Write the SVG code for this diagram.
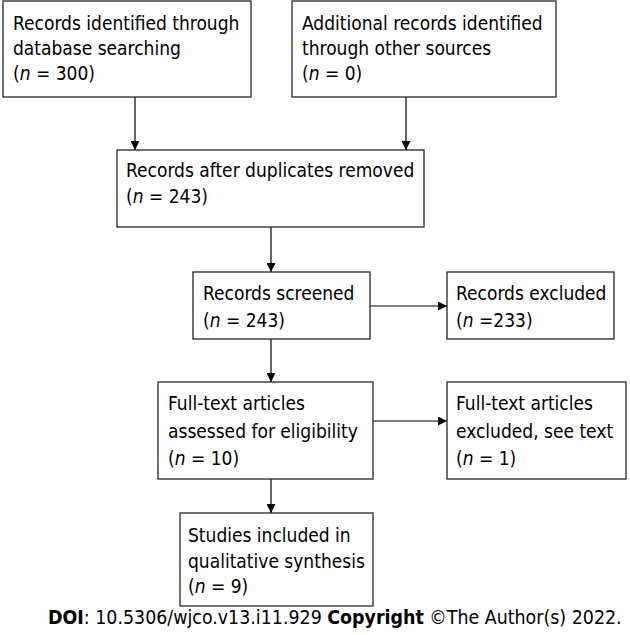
<svg xmlns="http://www.w3.org/2000/svg" width="630" height="635" viewBox="0 0 630 635">
<style>
.box{fill:#fff;stroke:#262626;stroke-width:1.3}
.t{font-family:"DejaVu Sans Condensed","DejaVu Sans",sans-serif;font-size:19px;fill:#000}
.d{font-size:19.4px}
.i{font-style:italic}
.b{font-weight:bold}
.c{stroke:#000;stroke-width:1.2;fill:none;marker-end:url(#ah)}
</style>
<defs>
<marker id="ah" viewBox="0 0 10 10" refX="10" refY="5" markerWidth="9" markerHeight="9" markerUnits="userSpaceOnUse" orient="auto">
<path d="M0,0 L10,5 L0,10 z" fill="#000"/>
</marker>
</defs>
<rect width="630" height="635" fill="#fff"/>
<g id="connectors">
<line class="c" x1="135" y1="97" x2="135" y2="150"/>
<line class="c" x1="406" y1="97" x2="406" y2="150"/>
<line class="c" x1="271" y1="227" x2="271" y2="272"/>
<line class="c" x1="370" y1="306" x2="447" y2="306"/>
<line class="c" x1="271" y1="339" x2="271" y2="382"/>
<line class="c" x1="373" y1="421" x2="447" y2="421"/>
<line class="c" x1="271" y1="479" x2="271" y2="513"/>
</g>
<g id="n1">
<rect class="box" x="3" y="1" width="248" height="96"/>
<text class="t" x="13" y="30">Records identified through</text>
<text class="t" x="13" y="55">database searching</text>
<text class="t" x="13" y="80">(<tspan class="i">n</tspan> = 300)</text>
</g>
<g id="n2">
<rect class="box" x="292" y="1" width="264" height="96"/>
<text class="t" x="302" y="30">Additional records identified</text>
<text class="t" x="302" y="55">through other sources</text>
<text class="t" x="302" y="80">(<tspan class="i">n</tspan> = 0)</text>
</g>
<g id="n3">
<rect class="box" x="117" y="150" width="307" height="77"/>
<text class="t" x="126" y="177">Records after duplicates removed</text>
<text class="t" x="126" y="203">(<tspan class="i">n</tspan> = 243)</text>
</g>
<g id="n4">
<rect class="box" x="193" y="272" width="177" height="67"/>
<text class="t" x="203" y="300">Records screened</text>
<text class="t" x="203" y="327">(<tspan class="i">n</tspan> = 243)</text>
</g>
<g id="n5">
<rect class="box" x="447" y="272" width="167" height="67"/>
<text class="t" x="456" y="300">Records excluded</text>
<text class="t" x="456" y="327">(<tspan class="i">n</tspan> =233)</text>
</g>
<g id="n6">
<rect class="box" x="158" y="382" width="215" height="97"/>
<text class="t" x="168" y="410">Full-text articles</text>
<text class="t" x="168" y="438">assessed for eligibility</text>
<text class="t" x="168" y="465">(<tspan class="i">n</tspan> = 10)</text>
</g>
<g id="n7">
<rect class="box" x="447" y="382" width="179" height="97"/>
<text class="t" x="456" y="410">Full-text articles</text>
<text class="t" x="456" y="438">excluded, see text</text>
<text class="t" x="456" y="465">(<tspan class="i">n</tspan> = 1)</text>
</g>
<g id="n8">
<rect class="box" x="180" y="513" width="193" height="93"/>
<text class="t" x="188" y="542">Studies included in</text>
<text class="t" x="188" y="568">qualitative synthesis</text>
<text class="t" x="188" y="593">(<tspan class="i">n</tspan> = 9)</text>
</g>
<text class="t d" x="48" y="624"><tspan class="b">DOI</tspan>: 10.5306/wjco.v13.i11.929 <tspan class="b">Copyright</tspan> ©The Author(s) 2022.</text>
</svg>
